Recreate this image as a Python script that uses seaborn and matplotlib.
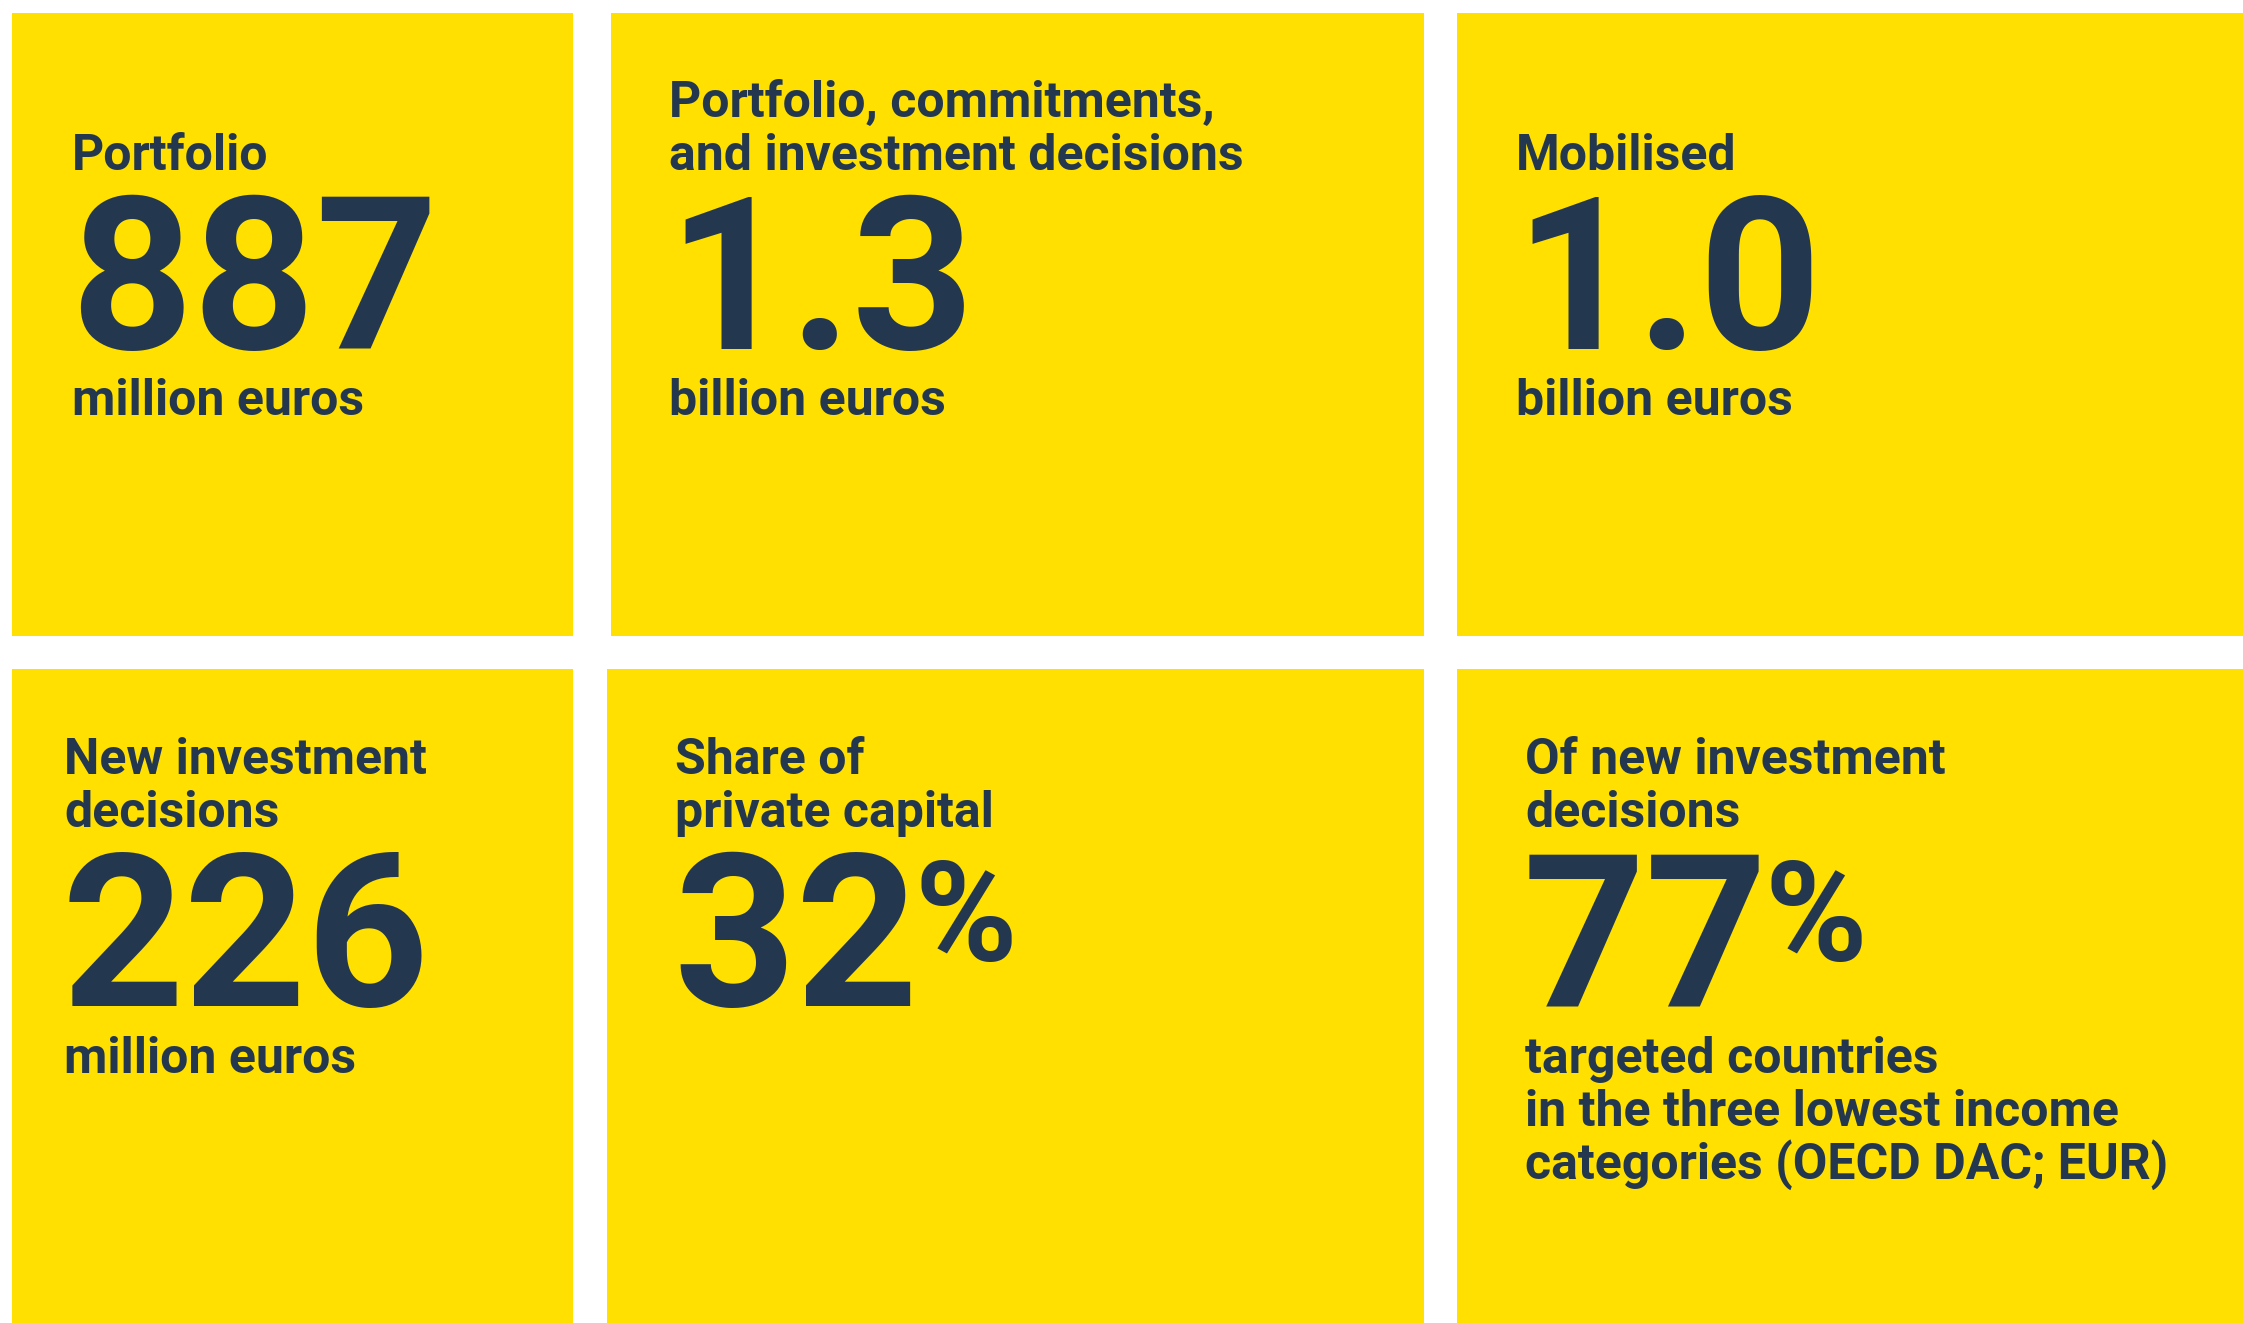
import seaborn as sns
from matplotlib import pyplot as plt
from matplotlib.patches import Rectangle

# key figures
labels = ["Portfolio", "Portfolio, commitments,\nand investment decisions", "Mobilised",
          "New investment\ndecisions", "Share of\nprivate capital", "Of new investment\ndecisions"]
values = ["887", "1.3", "1.0", "226", "32", "77"]
suffixes = ["", "", "", "", "%", "%"]
units = ["million euros", "billion euros", "billion euros", "million euros", "",
         "targeted countries\nin the three lowest income\ncategories (OECD DAC; EUR)"]

sns.set_theme(style="white")
plt.rcParams["font.family"] = ["Roboto", "DejaVu Sans"]

YELLOW = "#FFE000"
NAVY = "#23374F"
W, H = 2243, 1323

fig = plt.figure(figsize=(W / 100, H / 100), dpi=100, facecolor="white")
ax = fig.add_axes([0, 0, 1, 1])
ax.set_xlim(0, W)
ax.set_ylim(H, 0)
ax.axis("off")

# tile boxes (x0, x1, y0, y1) in pixels
tiles = [(12, 573, 13, 636), (611, 1424, 13, 636), (1457, 2243, 13, 636),
         (12, 573, 669, 1323), (607, 1424, 669, 1323), (1457, 2243, 669, 1323)]
# text anchor x; per row: last label baseline, number baseline, first unit baseline
text_x = [72, 669, 1516, 64, 675, 1525]
rows = [(170, 349, 415), (827, 1006, 1073)]
line_h = 53

fig.canvas.draw()
renderer = fig.canvas.get_renderer()

for i, (x0, x1, y0, y1) in enumerate(tiles):
    ax.add_patch(Rectangle((x0, y0), x1 - x0, y1 - y0, facecolor=YELLOW, edgecolor="none"))
    lab_y, num_y, unit_y = rows[i // 3]
    tx = text_x[i]

    lab_lines = labels[i].split("\n")
    for k, line in enumerate(lab_lines):
        y = lab_y - (len(lab_lines) - 1 - k) * line_h
        ax.text(tx, y, line, fontsize=36, fontweight="bold", color=NAVY, va="baseline", ha="left")

    num = ax.text(tx - 2, num_y, values[i], fontsize=154, fontweight="bold", color=NAVY,
                  va="baseline", ha="left")
    if suffixes[i]:
        bb = num.get_window_extent(renderer=renderer)
        right = ax.transData.inverted().transform((bb.x1, bb.y0))[0]
        ax.text(right - 4, num_y - 45, suffixes[i], fontsize=100, fontweight="bold",
                color=NAVY, va="baseline", ha="left")

    for k, line in enumerate(units[i].split("\n")):
        if line:
            ax.text(tx, unit_y + k * line_h, line, fontsize=36, fontweight="bold", color=NAVY,
                    va="baseline", ha="left")

fig.savefig("out.png", dpi=100, facecolor="white")
